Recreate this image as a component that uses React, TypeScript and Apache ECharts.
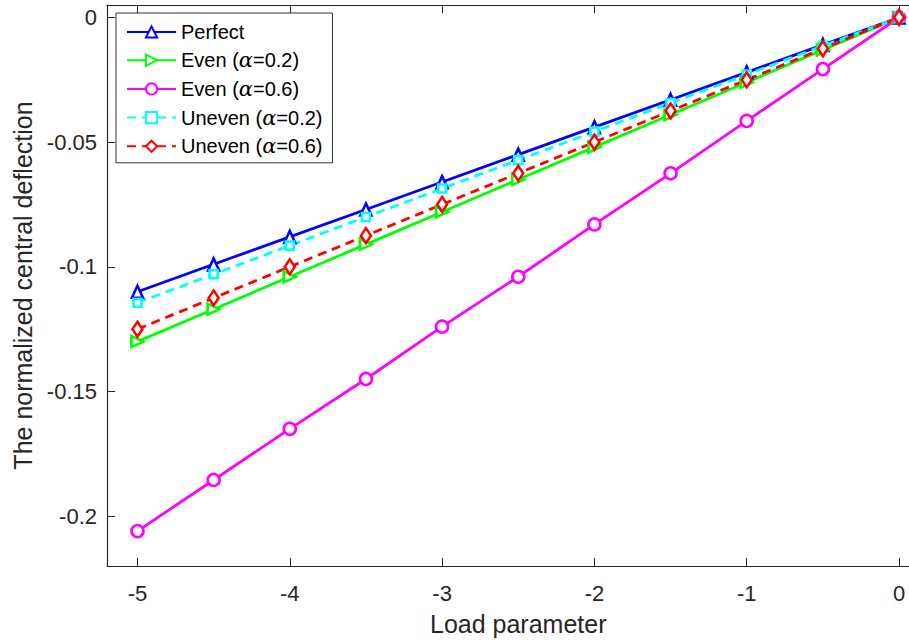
import React, { useEffect, useRef } from "react";
import * as echarts from "echarts";

const xValues = [-5, -4.5, -4, -3.5, -3, -2.5, -2, -1.5, -1, -0.5, 0];
const perfect = [-0.110, -0.099, -0.088, -0.077, -0.066, -0.055, -0.044, -0.033, -0.022, -0.011, 0];
const even02 = [-0.130, -0.117, -0.104, -0.091, -0.078, -0.065, -0.052, -0.039, -0.026, -0.013, 0];
const even06 = [-0.206, -0.1855, -0.165, -0.145, -0.124, -0.104, -0.083, -0.0625, -0.0415, -0.0207, 0];
const uneven02 = [-0.1144, -0.103, -0.0915, -0.080, -0.0686, -0.0572, -0.0458, -0.0343, -0.0229, -0.0114, 0];
const uneven06 = [-0.125, -0.1125, -0.100, -0.0875, -0.075, -0.0625, -0.050, -0.0375, -0.025, -0.0125, 0];

const xTicks = [-5, -4, -3, -2, -1, 0];
const yTicks = [-0.2, -0.15, -0.1, -0.05, 0];

const FONT = "'Liberation Sans', Arial, sans-serif";
const TXT = "#262626";

export default function App() {
  const ref = useRef<HTMLDivElement>(null);
  useEffect(() => {
    if (!ref.current) return;
    const chart = echarts.init(ref.current, null, { renderer: "svg" });
    const mk = (name: string, data: number[], color: string, symbol: string, size: number | number[], dashed: boolean, rotate = 0) => ({
      name,
      type: "line",
      data: xValues.map((x, i) => [x, data[i]]),
      color,
      symbol,
      symbolSize: size,
      symbolRotate: rotate,
      showAllSymbol: true,
      lineStyle: { color, width: 2.8, type: dashed ? [9, 6] : "solid" },
      itemStyle: { color: "#fff", borderColor: color, borderWidth: 2.6 },
      emphasis: { disabled: true },
      clip: false,
    });
    const axisCommon = {
      type: "value",
      splitLine: { show: false },
      axisLine: { show: true, onZero: false, lineStyle: { color: TXT, width: 1.2 } },
    };
    chart.setOption({
      animation: false,
      backgroundColor: "#fff",
      textStyle: { fontFamily: FONT },
      grid: { left: 107, right: 10.5, top: 5, bottom: 78, containLabel: false },
      xAxis: [
        {
          ...axisCommon,
          position: "bottom",
          min: -5.2,
          max: 0.2,
          axisTick: { show: true, inside: true, length: 8, customValues: xTicks, lineStyle: { color: TXT } },
          axisLabel: { show: true, customValues: xTicks, margin: 16, fontSize: 22, color: TXT, fontFamily: FONT },
          name: "Load parameter",
          nameLocation: "middle",
          nameGap: 45,
          nameTextStyle: { fontSize: 25, color: TXT, fontFamily: FONT },
        },
        {
          ...axisCommon,
          position: "top",
          min: -5.2,
          max: 0.2,
          axisTick: { show: true, inside: true, length: 8, customValues: xTicks, lineStyle: { color: TXT } },
          axisLabel: { show: false },
        },
      ],
      yAxis: [
        {
          ...axisCommon,
          position: "left",
          min: -0.22,
          max: 0.005,
          axisTick: { show: true, inside: true, length: 8, customValues: yTicks, lineStyle: { color: TXT } },
          axisLabel: {
            show: true,
            customValues: yTicks,
            margin: 10,
            fontSize: 22,
            color: TXT,
            fontFamily: FONT,
            formatter: (v: number) => (Math.abs(v) < 1e-9 ? "0" : String(v)),
          },
          name: "The normalized central deflection",
          nameLocation: "middle",
          nameGap: 70,
          nameTextStyle: { fontSize: 25, color: TXT, fontFamily: FONT },
        },
        {
          ...axisCommon,
          position: "right",
          min: -0.22,
          max: 0.005,
          axisTick: { show: true, inside: true, length: 8, customValues: yTicks, lineStyle: { color: TXT } },
          axisLabel: { show: false },
        },
      ],
      legend: {
        show: true,
        orient: "vertical",
        left: 116,
        top: 13,
        padding: [9, 10, 6, 10],
        itemGap: 7.7,
        itemWidth: 49,
        itemHeight: 14,
        backgroundColor: "#fff",
        borderColor: "#333",
        borderWidth: 1,
        borderRadius: 0,
        data: ["Perfect", "Even (α=0.2)", "Even (α=0.6)", "Uneven (α=0.2)", "Uneven (α=0.6)"],
        formatter: (name: string) => name.replace("α", "{a|α}"),
        textStyle: {
          fontSize: 20,
          lineHeight: 20,
          color: "#000",
          fontFamily: FONT,
          rich: {
            a: { fontSize: 21, lineHeight: 20, fontFamily: "'DejaVu Serif', serif", fontStyle: "italic", color: "#000" },
          },
        },
      },
      series: [
        mk("Perfect", perfect, "#0000ff", "triangle", [11, 12], false),
        mk("Even (α=0.2)", even02, "#00ff00", "triangle", [11, 12], false, -90),
        mk("Even (α=0.6)", even06, "#ff00ff", "circle", 12, false),
        mk("Uneven (α=0.2)", uneven02, "#00ffff", "rect", 8, true),
        mk("Uneven (α=0.6)", uneven06, "#ff0000", "diamond", [10, 15], true),
      ],
    });
    return () => chart.dispose();
  }, []);
  return (
    <div
      ref={ref}
      style={{ position: "fixed", left: 0, top: 0, width: 940, height: 644, background: "#fff" }}
    />
  );
}
